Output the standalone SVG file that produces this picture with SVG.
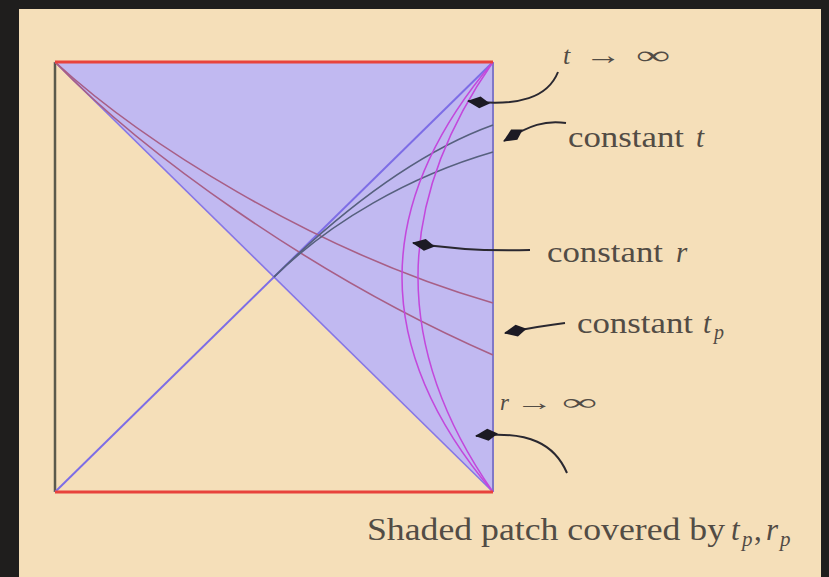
<svg xmlns="http://www.w3.org/2000/svg" width="829" height="577" viewBox="0 0 829 577">
<defs>
<style>
.lbl{font-family:"Liberation Serif","DejaVu Serif",serif;fill:#524c45;}
.it{font-style:italic;}
.arrow{fill:none;stroke:#2a2830;stroke-width:2;}
.tp{fill:none;stroke:#a85f86;stroke-width:1.6;}
.ct{fill:none;stroke:#56607e;stroke-width:1.6;}
.cr{fill:none;stroke:#c348dc;stroke-width:1.5;}
</style>
<marker id="dia" viewBox="-24 -7 26 14" refX="0" refY="0" markerWidth="26" markerHeight="14" markerUnits="userSpaceOnUse" orient="auto">
<path d="M-22,0 L-12,-6 L1,0 L-12,6 Z" fill="#1c1a24"/>
</marker>
</defs>
<rect x="0" y="0" width="829" height="577" fill="#1f1e1d"/>
<rect x="19" y="9" width="802" height="568" fill="#f5dfb9"/>

<g id="diagram">
<polygon id="shaded" points="55,62 493,62 493,492" fill="#c1b9f1"/>
<line x1="55" y1="62" x2="55" y2="492" stroke="#5b5a4c" stroke-width="2.5"/>
<line x1="55" y1="62" x2="493" y2="492" stroke="#8676e6" stroke-width="1.6"/>
<line x1="55" y1="492" x2="493" y2="62" stroke="#7d6de6" stroke-width="2"/>
<line x1="493" y1="62" x2="493" y2="492" stroke="#8078c8" stroke-width="2"/>
<path class="tp" d="M55,62 C140,140 310,250 493,303"/>
<path class="tp" d="M55,62 C140,150 310,275 493,355"/>
<path class="ct" d="M274,277 C330,222 410,155 493,125"/>
<path class="ct" d="M274,277 C330,222 410,176 493,152"/>
<path class="cr" d="M493,62 Q311,277 493,492"/>
<path class="cr" d="M493,62 Q343,277 493,492"/>
<line x1="55" y1="62" x2="493" y2="62" stroke="#e8433c" stroke-width="3"/>
<line x1="55" y1="492" x2="493" y2="492" stroke="#e8433c" stroke-width="3"/>
</g>

<g id="connectors">
<path class="arrow" d="M558,72 C548,97 520,107 468,101" marker-end="url(#dia)"/>
<path class="arrow" d="M566,123 C545,120 530,125 504,141" marker-end="url(#dia)"/>
<path class="arrow" d="M530,250 Q470,252 413,243" marker-end="url(#dia)"/>
<path class="arrow" d="M565,323 Q540,326 505,333" marker-end="url(#dia)"/>
<path class="arrow" d="M567,473 C555,445 530,430 476,436" marker-end="url(#dia)"/>
</g>

<g id="label-t-inf">
<text class="lbl" y="64" font-size="26"><tspan class="it" x="563">t</tspan><tspan x="585" textLength="37" lengthAdjust="spacingAndGlyphs">→</tspan><tspan x="636" textLength="34" lengthAdjust="spacingAndGlyphs">∞</tspan></text>
</g>
<g id="label-const-t">
<text class="lbl" y="147" font-size="29"><tspan x="568" textLength="116" lengthAdjust="spacingAndGlyphs">constant</tspan><tspan class="it" x="696">t</tspan></text>
</g>
<g id="label-const-r">
<text class="lbl" y="262" font-size="29"><tspan x="547" textLength="116" lengthAdjust="spacingAndGlyphs">constant</tspan><tspan class="it" x="676">r</tspan></text>
</g>
<g id="label-const-tp">
<text class="lbl" y="333" font-size="29"><tspan x="577" textLength="116" lengthAdjust="spacingAndGlyphs">constant</tspan><tspan class="it" x="703">t</tspan><tspan class="it" font-size="20" x="714" dy="6">p</tspan></text>
</g>
<g id="label-r-inf">
<text class="lbl" y="410" font-size="23"><tspan class="it" x="500">r</tspan><tspan x="515" textLength="38" lengthAdjust="spacingAndGlyphs">→</tspan><tspan x="562" textLength="35" lengthAdjust="spacingAndGlyphs">∞</tspan></text>
</g>
<g id="label-shaded">
<text class="lbl" y="540" font-size="31"><tspan x="367" textLength="358" lengthAdjust="spacingAndGlyphs">Shaded patch covered by</tspan><tspan class="it" x="731">t</tspan><tspan class="it" font-size="21" x="742" dy="6">p</tspan><tspan x="754" dy="-6">,</tspan><tspan class="it" x="766">r</tspan><tspan class="it" font-size="21" x="780" dy="6">p</tspan></text>
</g>
</svg>
